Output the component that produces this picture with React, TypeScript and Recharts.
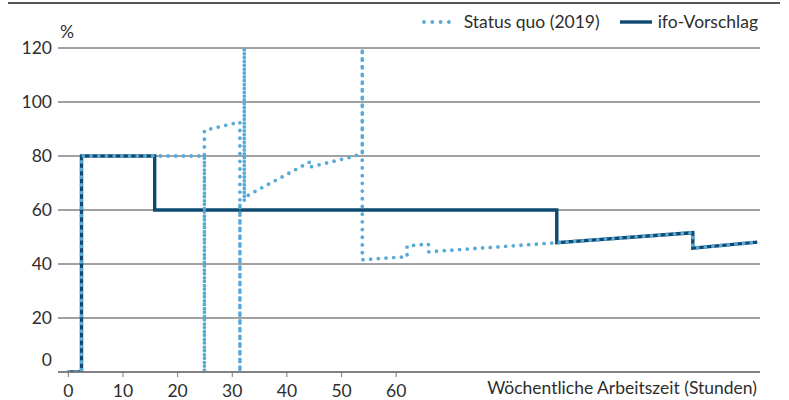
import { LineChart, Line, XAxis, YAxis, CartesianGrid } from "recharts";

// Wöchentliche Arbeitszeit (Stunden) -> Grenzbelastung in %
const statusQuoHours = [
  0, 2.4, 2.4, 24.9, 24.9, 24.9, 31.4, 31.4, 31.4, 32.2, 32.2, 32.2, 33, 44.2,
  44.2, 52.5, 53.8, 53.8, 53.8, 62, 62, 65.9, 65.9, 89.4, 114.3, 114.3, 126.1,
];
const statusQuoRates = [
  0, 0, 80, 80, 0, 89.5, 92.6, 0, 62.5, 63.5, 120, 64.2, 65.6, 77.8, 75.9,
  80, 81.3, 120, 41.6, 42.7, 46.7, 47.4, 44.5, 47.9, 51.6, 45.9, 48.1,
];

const ifoHours = [0, 2.4, 2.4, 15.8, 15.8, 89.4, 89.4, 114.3, 114.3, 126.1];
const ifoRates = [0, 0, 80, 80, 60, 60, 47.9, 51.6, 45.9, 48.1];

const xTicks = [0, 10, 20, 30, 40, 50, 60];
const yTicks = [0, 20, 40, 60, 80, 100, 120];

const statusQuo = statusQuoHours.map((x, i) => ({ x, y: statusQuoRates[i] }));
const ifo = ifoHours.map((x, i) => ({ x, y: ifoRates[i] }));

const LIGHT = "#5aaad9";
const DARK = "#0e4a6f";
const TEXT = "#2e2e2e";
const FONT = "Lato, 'Noto Sans', sans-serif";
const FS = 17.5;

const XTick = (props: any) => {
  const { x, y, payload } = props;
  return (
    <text x={x} y={y + 18} textAnchor="middle" fill={TEXT} fontSize={FS} fontFamily={FONT}>
      {payload.value}
    </text>
  );
};

const YTick = (props: any) => {
  const { y, payload } = props;
  const shift = payload.value === 0 ? -12 : 0;
  return (
    <text x={52} y={y + 6 + shift} textAnchor="end" fill={TEXT} fontSize={FS} fontFamily={FONT}>
      {payload.value}
    </text>
  );
};

export default function App() {
  return (
    <div style={{ position: "absolute", left: 0, top: 0, width: 789, height: 400, background: "#fff" }}>
      <div style={{ position: "absolute", left: 8, top: 2, width: 772, height: 2, background: "#555" }} />
      <div
        style={{
          position: "absolute",
          right: 31,
          top: 11,
          display: "flex",
          alignItems: "center",
          fontFamily: FONT,
          fontSize: FS,
          color: TEXT,
          lineHeight: "22px",
        }}
      >
        <svg width={32} height={8} style={{ marginRight: 10 }}>
          <line x1={2} y1={4} x2={30} y2={4} stroke={LIGHT} strokeWidth={3.8} strokeLinecap="round" strokeDasharray="0 8.3" />
        </svg>
        <span>Status quo (2019)</span>
        <svg width={34} height={8} style={{ marginLeft: 20, marginRight: 4 }}>
          <line x1={0} y1={4} x2={32} y2={4} stroke={DARK} strokeWidth={3.4} />
        </svg>
        <span>ifo-Vorschlag</span>
      </div>
      <div
        style={{ position: "absolute", left: 60, top: 21, fontFamily: FONT, fontSize: FS, color: TEXT }}
      >
        %
      </div>
      <div
        style={{
          position: "absolute",
          right: 32,
          top: 377,
          fontFamily: FONT,
          fontSize: FS,
          color: TEXT,
        }}
      >
        Wöchentliche Arbeitszeit (Stunden)
      </div>
      <LineChart width={789} height={400} margin={{ top: 48, right: 29, left: 0, bottom: 0 }}>
        <CartesianGrid vertical={false} stroke="#444" strokeWidth={1} />
        <XAxis
          type="number"
          dataKey="x"
          domain={[-1.9, 126.6]}
          ticks={xTicks}
          allowDataOverflow
          height={28}
          tickSize={5}
          tickLine={{ stroke: "#777" }}
          axisLine={{ stroke: "#777", strokeWidth: 1.5 }}
          tick={<XTick />}
        />
        <YAxis
          type="number"
          dataKey="y"
          domain={[0, 120]}
          ticks={yTicks}
          allowDataOverflow
          width={58}
          axisLine={false}
          tickLine={false}
          tick={<YTick />}
        />
        <Line
          data={ifo}
          dataKey="y"
          name="ifo-Vorschlag"
          type="linear"
          stroke={DARK}
          strokeWidth={3.4}
          dot={false}
          activeDot={false}
          isAnimationActive={false}
        />
        <Line
          data={statusQuo}
          dataKey="y"
          name="Status quo (2019)"
          type="linear"
          stroke={LIGHT}
          strokeWidth={3.8}
          strokeLinecap="round"
          strokeLinejoin="round"
          strokeDasharray="0 7.7"
          dot={false}
          activeDot={false}
          isAnimationActive={false}
        />
      </LineChart>
    </div>
  );
}
